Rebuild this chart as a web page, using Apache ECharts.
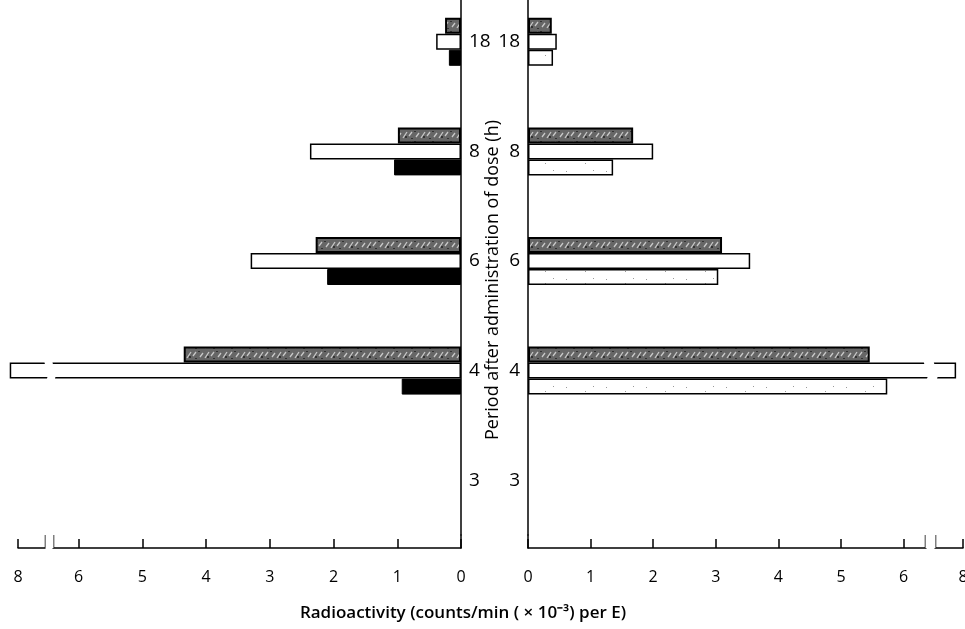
<!DOCTYPE html>
<html>
<head>
<meta charset="utf-8">
<script src="https://cdn.jsdelivr.net/npm/echarts@6/dist/echarts.min.js"></script>
<style>
html,body{margin:0;padding:0;background:#fff;}
#chart{width:965px;height:629px;}
</style>
</head>
<body>
<div id="chart"></div>
<script>
// ---- data ----
var categories = ['3', '4', '6', '8', '18'];
var leftHatched = [null, 4.35, 2.28, 0.99, 0.25];
var leftWhite   = [null, 8.13, 3.30, 2.37, 0.39];
var leftBlack   = [null, 0.93, 2.10, 1.05, 0.19];
var rightHatched = [null, 5.46, 3.10, 1.68, 0.38];
var rightWhite   = [null, 7.89, 3.55, 2.00, 0.46];
var rightDotted  = [null, 5.74, 3.04, 1.36, 0.40];
var xTicks = [0, 1, 2, 3, 4, 5, 6, 8];

// ---- textures ----
function hatchPattern() {
  var c = document.createElement('canvas');
  c.width = 18; c.height = 10;
  var g = c.getContext('2d');
  g.fillStyle = '#666666'; g.fillRect(0, 0, 18, 10);
  g.strokeStyle = '#c8c8c8'; g.lineWidth = 1.3;
  g.beginPath();
  g.moveTo(2, 7); g.lineTo(5, 3);
  g.moveTo(7, 8); g.lineTo(11, 2);
  g.moveTo(13, 6); g.lineTo(16, 2);
  g.stroke();
  g.fillStyle = '#333333';
  g.fillRect(9, 6, 2, 2); g.fillRect(0, 1, 2, 1); g.fillRect(15, 8, 2, 1);
  return c;
}
function dotPattern() {
  var c = document.createElement('canvas');
  c.width = 40; c.height = 12;
  var g = c.getContext('2d');
  g.fillStyle = '#ffffff'; g.fillRect(0, 0, 40, 12);
  g.fillStyle = '#9a9a9a';
  g.fillRect(6, 3, 1, 1); g.fillRect(25, 7, 1, 1); g.fillRect(33, 2, 1, 1);
  return c;
}
var hatchFill = { image: hatchPattern(), repeat: 'repeat' };
var dotFill = { image: dotPattern(), repeat: 'repeat' };

var FONT = 'Open Sans';
var chart = echarts.init(document.getElementById('chart'), null, { renderer: 'canvas' });

var leftBreak = { start: 6.4, end: 7.58, gap: 0.13 };
var rightBreak = { start: 6.35, end: 7.55, gap: 0.15 };

// hidden scale axis for the bars (break area cuts bars crossing the break)
function barXAxis(gridIndex, inverse, brk) {
  return {
    type: 'value', gridIndex: gridIndex, inverse: inverse,
    min: 0, max: 8, interval: 1, z: 10,
    breaks: [brk],
    breakArea: {
      show: true,
      itemStyle: { color: '#ffffff', borderColor: 'transparent', borderWidth: 0, opacity: 1 },
      zigzagAmplitude: 2
    },
    axisLine: { show: false }, axisTick: { show: false }, axisLabel: { show: false },
    splitLine: { show: false }
  };
}
// visible tick axis in a thin strip along the bottom
function tickXAxis(gridIndex, inverse, brk) {
  return {
    type: 'value', gridIndex: gridIndex, inverse: inverse,
    min: 0, max: 8, interval: 1,
    breaks: [brk],
    breakArea: {
      show: true,
      itemStyle: { color: '#ffffff', borderColor: '#000', borderWidth: 1.5,
                   borderType: 'solid', opacity: 1 },
      zigzagAmplitude: 3, zigzagMinSpan: 13, zigzagMaxSpan: 13
    },
    axisLine: { show: true, lineStyle: { color: '#000', width: 1.5 } },
    axisTick: { show: true, inside: true, length: 9, customValues: xTicks,
                lineStyle: { color: '#000', width: 1.5 } },
    axisLabel: { show: true, margin: 21, color: '#000', fontSize: 16, fontFamily: FONT,
                 customValues: xTicks },
    splitLine: { show: false }
  };
}

var catAxisCommon = {
  type: 'category', data: categories,
  axisLine: { show: true, onZero: false, lineStyle: { color: '#000', width: 1.5 } },
  axisTick: { show: false },
  splitLine: { show: false },
  axisLabel: { color: '#000', fontSize: 19, fontFamily: FONT, margin: 8 }
};
var stubYAxis = {
  type: 'value', min: 0, max: 1,
  axisLine: { show: true, onZero: false, lineStyle: { color: '#000', width: 1.5 } },
  axisTick: { show: false }, axisLabel: { show: false }, splitLine: { show: false }
};

function barSeries(name, data, xi, yi, fill, border, bw) {
  return {
    type: 'bar', name: name, data: data, xAxisIndex: xi, yAxisIndex: yi,
    barWidth: 16, barGap: '0%', clip: false,
    itemStyle: { color: fill, borderColor: border, borderWidth: bw },
    emphasis: { disabled: true }, silent: true
  };
}

function gridDef(left, right, top, bottom) {
  return { left: left, right: right, top: top, bottom: bottom,
           containLabel: false, outerBoundsMode: 'none' };
}

var option = {
  animation: false,
  backgroundColor: '#ffffff',
  textStyle: { fontFamily: FONT },
  grid: [
    gridDef(18, 504, -13, 94),   // left bars
    gridDef(528, 2, -13, 94),    // right bars
    gridDef(18, 504, 535, 81),   // left tick strip
    gridDef(528, 2, 535, 81)     // right tick strip
  ],
  xAxis: [
    barXAxis(0, true, leftBreak),
    barXAxis(1, false, rightBreak),
    tickXAxis(2, true, leftBreak),
    tickXAxis(3, false, rightBreak)
  ],
  yAxis: [
    Object.assign({ gridIndex: 0, position: 'right' }, catAxisCommon),
    Object.assign({ gridIndex: 1, position: 'left' }, catAxisCommon),
    Object.assign({ gridIndex: 2, position: 'right' }, stubYAxis),
    Object.assign({ gridIndex: 3, position: 'left' }, stubYAxis)
  ],
  series: [
    barSeries('L-hatched', leftHatched, 0, 0, hatchFill, '#000000', 2),
    barSeries('L-white', leftWhite, 0, 0, '#ffffff', '#000000', 1.5),
    barSeries('L-black', leftBlack, 0, 0, '#000000', '#000000', 1),
    barSeries('R-hatched', rightHatched, 1, 1, hatchFill, '#000000', 2),
    barSeries('R-white', rightWhite, 1, 1, '#ffffff', '#000000', 1.5),
    barSeries('R-dotted', rightDotted, 1, 1, dotFill, '#000000', 1.5)
  ],
  graphic: [
    { type: 'text', x: 493, y: 280, rotation: Math.PI / 2, silent: true,
      style: { text: 'Period after administration of dose (h)', fontSize: 18, fontFamily: FONT,
               fill: '#000', align: 'center', verticalAlign: 'middle' } },
    { type: 'text', x: 463, y: 613, silent: true,
      style: { text: 'Radioactivity (counts/min ( \u00d7 10\u207b\u00b3) per E)', fontSize: 17, fontWeight: 600,
               fontFamily: FONT, fill: '#000', align: 'center', verticalAlign: 'middle' } }
  ]
};
chart.setOption(option);
</script>
</body>
</html>
